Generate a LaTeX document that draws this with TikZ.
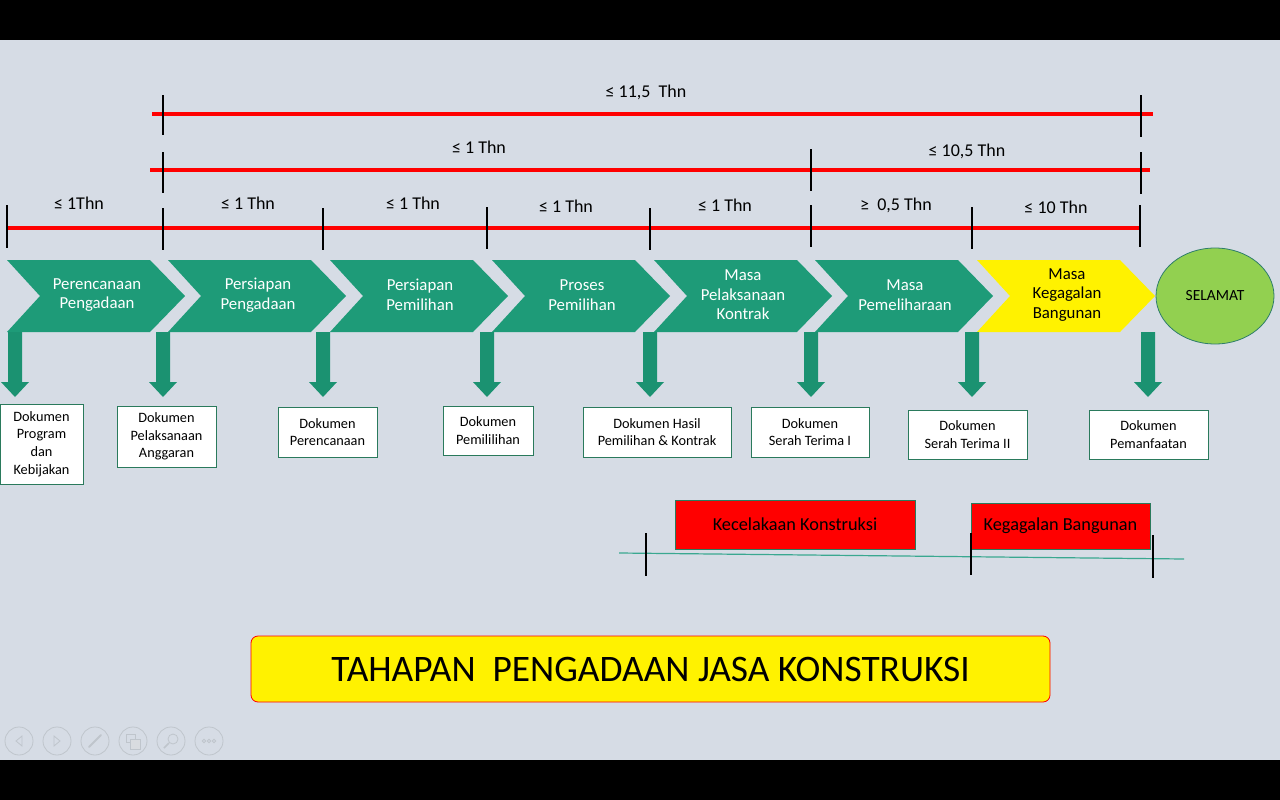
\documentclass[tikz,border=0pt]{standalone}
\usepackage{fontspec}
\setmainfont{Carlito}
\usetikzlibrary{shapes.geometric}
\definecolor{bg}{HTML}{D6DCE5}
\definecolor{chevgreen}{HTML}{1E9B78}
\definecolor{arrgreen}{HTML}{1B9271}
\definecolor{boxgreen}{HTML}{2A7A5C}
\definecolor{selgreen}{HTML}{92D050}
\definecolor{selborder}{HTML}{2E7D6B}
\definecolor{tealline}{HTML}{3AA890}
\definecolor{navgray}{HTML}{BFC5CC}
\begin{document}
\begin{tikzpicture}[x=1pt,y=-1pt,
  redline/.style={draw=red,line width=3.6pt},
  tickmark/.style={draw=black,line width=1.6pt},
  lbl/.style={font=\fontsize{18}{20}\selectfont,inner sep=0pt,anchor=center},
  chevtxt/.style={text=white,align=center,font=\fontsize{16.8}{19.5}\selectfont,inner sep=0pt},
  docbox/.style={draw=boxgreen,fill=white,line width=0.8pt,align=center,font=\fontsize{14.3}{17.6}\selectfont,inner sep=0pt},
  downarrow/.style={fill=arrgreen},
  redbox/.style={draw=boxgreen,fill=red,line width=0.6pt,font=\fontsize{18.3}{20}\selectfont,inner sep=0pt},
  navicon/.style={draw=navgray,line width=0.8pt}
]
% background and bars
\fill[bg] (0,0) rectangle (1280,800);
\fill[black] (0,0) rectangle (1280,40);
\fill[black] (0,760) rectangle (1280,800);
\useasboundingbox (0,0) rectangle (1280,800);

% ---------- red time lines ----------
\coordinate (l1a) at (152,114); \coordinate (l1b) at (1153,114);
\coordinate (l2a) at (150,170); \coordinate (l2b) at (1150,170);
\coordinate (l3a) at (6,228);   \coordinate (l3b) at (1140,228);
\draw[redline] (l1a) -- (l1b);
\draw[redline] (l2a) -- (l2b);
\draw[redline] (l3a) -- (l3b);
% ticks
\draw[tickmark] (163,95) -- (163,135);
\draw[tickmark] (1141,95) -- (1141,137);
\draw[tickmark] (163,152) -- (163,193);
\draw[tickmark] (811,149) -- (811,191);
\draw[tickmark] (1141,152) -- (1141,194);
\foreach \x/\a/\b in {7/205/248,163/208/250,323/208/250,487/207/249,650/208/250,811/205/247,972/207/249,1140/205/247}
  \draw[tickmark] (\x,\a) -- (\x,\b);
% labels
\node[lbl] (t1) at (646,92) {≤ 11,5\ \ Thn};
\node[lbl] (t2) at (479,147) {≤ 1 Thn};
\node[lbl] (t3) at (967,151) {≤ 10,5 Thn};
\node[lbl] (s1) at (79,203) {≤ 1Thn};
\node[lbl] (s2) at (248,203) {≤ 1 Thn};
\node[lbl] (s3) at (413,203) {≤ 1 Thn};
\node[lbl] (s4) at (566,206) {≤ 1 Thn};
\node[lbl] (s5) at (725,205) {≤ 1 Thn};
\node[lbl] (s6) at (896,205) {≥\ \ 0,5 Thn};
\node[lbl] (s7) at (1056,207) {≤ 10 Thn};

% ---------- chevrons ----------
\foreach \x/\col in {7/chevgreen,168/chevgreen,330/chevgreen,492/chevgreen,654/chevgreen,815/chevgreen,977/yellow}
  \fill[\col] (\x,260) -- ++(143,0) -- ++(35,36) -- ++(-35,36) -- ++(-143,0) -- ++(33,-36) -- cycle;
\node[chevtxt] (c1) at (97,295) {Perencanaan\\Pengadaan};
\node[chevtxt] (c2) at (258,295) {Persiapan\\Pengadaan};
\node[chevtxt] (c3) at (420,295) {Persiapan\\Pemilihan};
\node[chevtxt] (c4) at (582,295) {Proses\\Pemilihan};
\node[chevtxt] (c5) at (743,295) {Masa\\Pelaksanaan\\Kontrak};
\node[chevtxt] (c6) at (905,295) {Masa\\Pemeliharaan};
\node[chevtxt,text=black] (c7) at (1067,295) {Masa\\Kegagalan\\Bangunan};
\node[draw=selborder,fill=selgreen,line width=0.8pt,ellipse,minimum width=118pt,minimum height=96pt,inner sep=0pt,font=\fontsize{15.5}{18}\selectfont] (sel) at (1215,296) {SELAMAT};

% ---------- down arrows ----------
\foreach \x in {15,163,323,487,650,811,972,1148}
  \fill[downarrow] (\x-7,332) -- (\x+7,332) -- (\x+7,382) -- (\x+14,382) -- (\x,397) -- (\x-14,382) -- (\x-7,382) -- cycle;

% ---------- document boxes ----------
\node[docbox,minimum width=83pt,minimum height=80pt] (d1) at (41.5,444) {Dokumen\\Program\\dan\\Kebijakan};
\node[docbox,minimum width=99pt,minimum height=61pt] (d2) at (166.5,436.5) {Dokumen\\Pelaksanaan\\Anggaran};
\node[docbox,minimum width=99pt,minimum height=50pt] (d3) at (327.5,432) {Dokumen\\Perencanaan};
\node[docbox,minimum width=90pt,minimum height=49pt] (d4) at (488,430.5) {Dokumen\\Pemililihan};
\node[docbox,minimum width=148pt,minimum height=50pt] (d5) at (657,432) {Dokumen Hasil\\Pemilihan \& Kontrak};
\node[docbox,minimum width=118pt,minimum height=50pt] (d6) at (810,432) {Dokumen\\Serah Terima I};
\node[docbox,minimum width=119pt,minimum height=49pt] (d7) at (967.5,434.5) {Dokumen\\Serah Terima II};
\node[docbox,minimum width=119pt,minimum height=49pt] (d8) at (1148.5,434.5) {Dokumen\\Pemanfaatan};

% ---------- red boxes and teal line ----------
\node[redbox,minimum width=240pt,minimum height=49pt] (k1) at (795,524.5) {Kecelakaan Konstruksi};
\node[redbox,minimum width=179pt,minimum height=46pt] (k2) at (1060.5,526) {Kegagalan Bangunan};
\coordinate (ta) at (619,553); \coordinate (tb) at (1184,559);
\draw[tealline,line width=1.2pt] (ta) -- (tb);
\draw[tickmark] (646,533) -- (646,576);
\draw[tickmark] (971,533) -- (971,575);
\draw[tickmark] (1153,535) -- (1153,578);

% ---------- title ----------
\node[draw=red,fill=yellow,rounded corners=7pt,line width=0.8pt,minimum width=799pt,minimum height=66pt,inner sep=0pt,font=\fontsize{37.4}{40}\selectfont] (title) at (650.5,669) {TAHAPAN\ \ PENGADAAN JASA KONSTRUKSI};

% ---------- slide navigation icons ----------
\foreach \i in {0,...,5} \draw[navicon] (19+38*\i,741) circle (14);
\draw[navicon] (22,736) -- (16,741) -- (22,746) -- cycle;
\draw[navicon] (54,736) -- (60,741) -- (54,746) -- cycle;
\draw[navicon,line width=2pt,line cap=round] (89,747) -- (101,735);
\draw[navicon] (126,734) rectangle (135,742);
\draw[navicon,fill=navgray!60] (130,739) rectangle (140,749);
\draw[navicon] (173,739) circle (5);
\draw[navicon,line width=1.6pt] (169,743) -- (164,748);
\foreach \dx in {-5,0,5} \draw[navicon] (209+\dx,741) circle (1.8);
\end{tikzpicture}
\end{document}
